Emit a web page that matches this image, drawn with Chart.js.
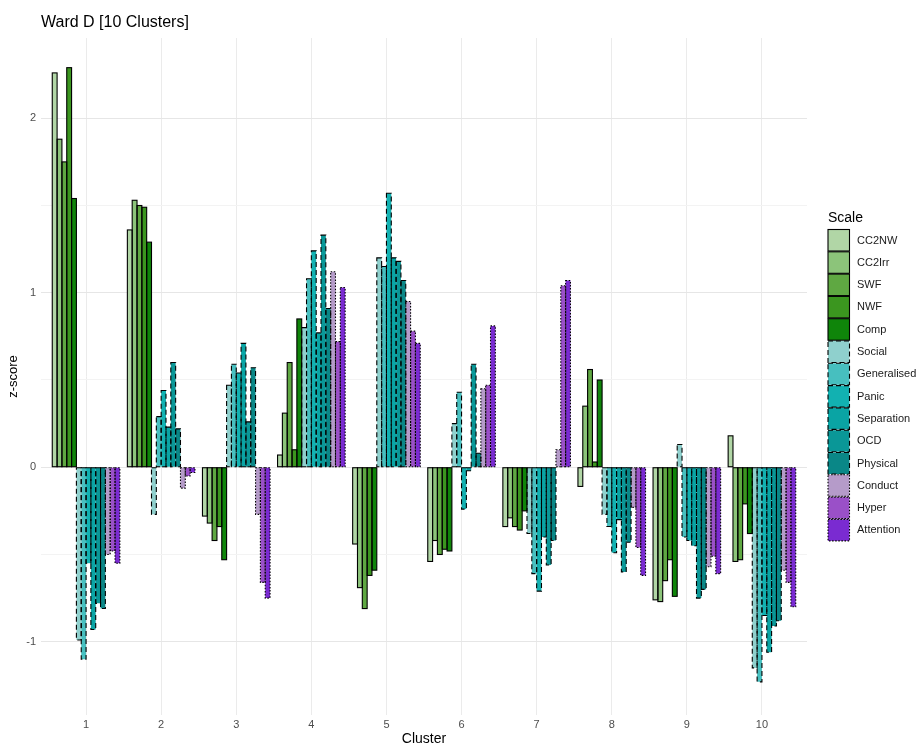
<!DOCTYPE html>
<html>
<head>
<meta charset="utf-8">
<script src="https://cdn.jsdelivr.net/npm/chart.js@4.4.1/dist/chart.umd.min.js"></script>
<style>
  html, body { margin: 0; padding: 0; background: #fff; }
  #caja { width: 916px; height: 744px; }
</style>
</head>
<body>
<div id="caja"><canvas id="grafico"></canvas></div>
<script>
// Datos: z-score por escala y cluster
const clusters = [1, 2, 3, 4, 5, 6, 7, 8, 9, 10];
const yTicks = [-1, 0, 1, 2];

const CC2NW       = [2.26, 1.36, -0.28, 0.07, -0.44, -0.54, -0.34, -0.11, -0.76, 0.18];
const CC2Irr      = [1.88, 1.53, -0.32, 0.31, -0.69, -0.42, -0.29, 0.35, -0.77, -0.54];
const SWF         = [1.75, 1.50, -0.42, 0.60, -0.81, -0.50, -0.34, 0.56, -0.65, -0.53];
const NWF         = [2.29, 1.49, -0.34, 0.10, -0.62, -0.47, -0.36, 0.03, -0.53, -0.21];
const Comp        = [1.54, 1.29, -0.53, 0.85, -0.59, -0.48, -0.25, 0.50, -0.74, -0.38];
const Social      = [-0.99, -0.27, 0.47, 0.80, 1.20, 0.25, -0.38, -0.27, 0.13, -1.15];
const Generalised = [-1.10, 0.29, 0.59, 1.08, 1.15, 0.43, -0.61, -0.34, -0.40, -1.23];
const Panic       = [-0.55, 0.44, 0.54, 1.24, 1.57, -0.24, -0.71, -0.49, -0.42, -0.85];
const Separation  = [-0.93, 0.23, 0.71, 0.77, 1.20, -0.02, -0.40, -0.30, -0.45, -1.06];
const OCD         = [-0.78, 0.60, 0.26, 1.33, 1.18, 0.59, -0.56, -0.60, -0.75, -0.91];
const Physical    = [-0.81, 0.22, 0.57, 0.91, 1.07, 0.08, -0.42, -0.43, -0.70, -0.88];
const Conduct     = [-0.50, -0.12, -0.27, 1.12, 0.95, 0.45, 0.10, -0.23, -0.57, -0.59];
const Hyper       = [-0.48, -0.05, -0.66, 0.72, 0.78, 0.47, 1.04, -0.46, -0.51, -0.66];
const Attention   = [-0.55, -0.03, -0.75, 1.03, 0.71, 0.81, 1.07, -0.62, -0.61, -0.80];

const nombres = ['CC2NW', 'CC2Irr', 'SWF', 'NWF', 'Comp', 'Social', 'Generalised', 'Panic',
                 'Separation', 'OCD', 'Physical', 'Conduct', 'Hyper', 'Attention'];
const valores = [CC2NW, CC2Irr, SWF, NWF, Comp, Social, Generalised, Panic,
                 Separation, OCD, Physical, Conduct, Hyper, Attention];
const colores = ['#b1d6a6', '#8cc47a', '#5fa842', '#3b961f', '#0f850a',
                 '#8fd0cd', '#47bfbf', '#12b1b1', '#0aa4a4', '#0a9797', '#0a8787',
                 '#b59bc9', '#9a50c8', '#7a2bd1'];
const lineas = ['solid', 'solid', 'solid', 'solid', 'solid',
                'dashed', 'dashed', 'dashed', 'dashed', 'dashed', 'dashed',
                'dotted', 'dotted', 'dotted'];
const dashes = { solid: [], dashed: [5, 3], dotted: [1.5, 1.6] };

const fuente = '"Liberation Sans", Arial, sans-serif';

// Bordes con trazo (Chart.js no dibuja borderDash en barras)
const bordes = {
    id: 'bordes',
    afterDatasetsDraw(chart) {
        const ctx = chart.ctx;
        chart.data.datasets.forEach((ds, i) => {
            const meta = chart.getDatasetMeta(i);
            ctx.save();
            ctx.strokeStyle = '#000';
            ctx.lineWidth = 1.1;
            ctx.setLineDash(dashes[lineas[i]]);
            meta.data.forEach(bar => {
                const p = bar.getProps(['x', 'y', 'base', 'width'], true);
                const top = Math.min(p.y, p.base);
                ctx.strokeRect(p.x - p.width / 2, top, p.width, Math.abs(p.base - p.y));
            });
            ctx.restore();
        });
    }
};

// Titulo y leyenda a mano
const extras = {
    id: 'extras',
    afterDraw(chart) {
        const ctx = chart.ctx;
        ctx.save();
        ctx.fillStyle = '#000';
        ctx.font = '16px ' + fuente;
        ctx.textBaseline = 'alphabetic';
        ctx.fillText('Ward D [10 Clusters]', 41, 27);

        ctx.font = '14px ' + fuente;
        ctx.fillText('Scale', 828, 222);
        chart.data.datasets.forEach((ds, i) => {
            const y = 229.5 + i * 22.3;
            ctx.fillStyle = ds.backgroundColor;
            ctx.fillRect(828, y, 21.5, 21.5);
            ctx.strokeStyle = '#000';
            ctx.lineWidth = 1.1;
            ctx.setLineDash(dashes[lineas[i]]);
            ctx.strokeRect(828, y, 21.5, 21.5);
            ctx.setLineDash([]);
            ctx.fillStyle = '#1a1a1a';
            ctx.font = '11px ' + fuente;
            ctx.textBaseline = 'middle';
            ctx.fillText(ds.label, 857, y + 11);
            ctx.textBaseline = 'alphabetic';
        });
        ctx.restore();
    }
};

const esEntero = v => Math.abs(v - Math.round(v)) < 1e-6;
const valorTick = c => (c && c.tick) ? c.tick.value : NaN;

document.addEventListener('DOMContentLoaded', function() {
    const ctx = document.getElementById('grafico').getContext('2d');
    new Chart(ctx, {
        type: 'bar',
        data: {
            datasets: nombres.map((n, i) => ({
                label: n,
                data: valores[i].map((v, j) => ({ x: clusters[j], y: v })),
                backgroundColor: colores[i],
                borderWidth: 0,
                categoryPercentage: 0.9,
                barPercentage: 1.0
            }))
        },
        options: {
            responsive: true,
            maintainAspectRatio: false,
            animation: false,
            layout: { padding: { left: 0, right: 109, top: 38, bottom: 0 } },
            plugins: { legend: { display: false }, title: { display: false }, tooltip: { enabled: false } },
            scales: {
                x: {
                    type: 'linear',
                    min: 0.4,
                    max: 10.6,
                    offset: false,
                    afterFit(s) { s.height = 29; },
                    afterBuildTicks(s) { s.ticks = s.ticks.filter(t => esEntero(t.value)); },
                    grid: { offset: false, drawTicks: false, lineWidth: 1, color: '#ebebeb' },
                    border: { display: false },
                    ticks: {
                        stepSize: 1,
                        color: '#4d4d4d',
                        font: { family: fuente, size: 11 },
                        padding: 3,
                        callback: v => String(Math.round(v))
                    },
                    title: { display: true, text: 'Cluster', color: '#000',
                             font: { family: fuente, size: 14 }, padding: { top: 0, bottom: -4 } }
                },
                y: {
                    min: -1.42,
                    max: 2.46,
                    afterFit(s) { s.width = 41; },
                    afterBuildTicks(s) { s.ticks = s.ticks.filter(t => esEntero(t.value * 2)); },
                    grid: {
                        drawTicks: false,
                        lineWidth: 1,
                        color: c => esEntero(valorTick(c)) ? '#e6e6e6' : '#f3f3f3'
                    },
                    border: { display: false },
                    ticks: {
                        stepSize: 0.5,
                        color: '#4d4d4d',
                        font: { family: fuente, size: 11 },
                        padding: 5,
                        callback: v => esEntero(v) ? String(Math.round(v)) : ''
                    },
                    title: { display: true, text: 'z-score', color: '#000',
                             font: { family: fuente, size: 13 }, padding: { top: 6, bottom: 0 } }
                }
            }
        },
        plugins: [bordes, extras]
    });
});
</script>
</body>
</html>
